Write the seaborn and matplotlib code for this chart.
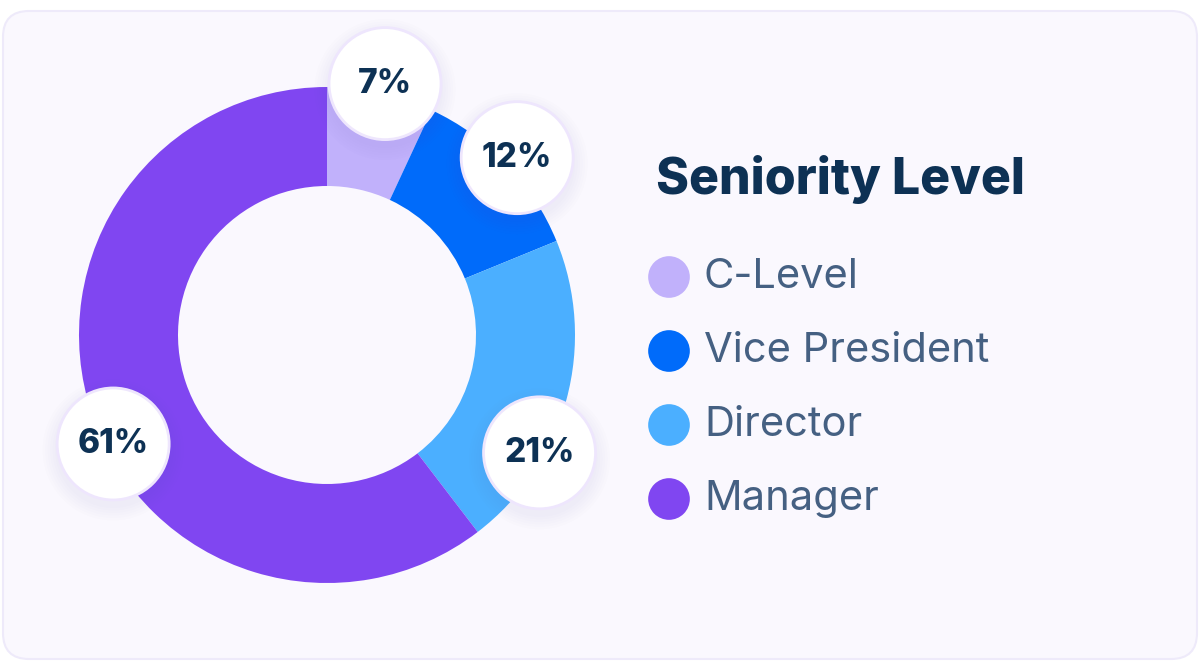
import matplotlib
matplotlib.use("Agg")
import matplotlib.pyplot as plt
from matplotlib.patches import FancyBboxPatch, Circle
import numpy as np
import seaborn as sns

# data
levels = ["C-Level", "Vice President", "Director", "Manager"]
shares = [7, 12, 21, 61]
colors = ["#C1B1FB", "#006BFA", "#4BAFFF", "#8046F1"]
title = "Seniority Level"

# layout (pixels, origin bottom-left)
W, H = 1200, 662
cx, cy = 327, H - 335
r_out, r_in = 248, 149
bubble_angles = [77, 43, -29, -153]
bubble_radii = [258, 260, 243, 240]
bubble_r = 56

sns.set_theme(style="white")
plt.rcParams["font.family"] = ["Inter", "DejaVu Sans"]

fig = plt.figure(figsize=(W / 100, H / 100), dpi=100)
fig.patch.set_facecolor("white")
ax = fig.add_axes([0, 0, 1, 1])

# card background
card = FancyBboxPatch((3, 3), W - 6, H - 14, boxstyle="round,pad=0,rounding_size=26",
                      facecolor="#FAF8FE", edgecolor="#EEEAFA", linewidth=1.5, zorder=0)
ax.add_patch(card)

# donut
ax.pie(shares, colors=colors, startangle=90, counterclock=False,
       center=(cx, cy), radius=r_out,
       wedgeprops=dict(width=r_out - r_in, linewidth=0, zorder=1))

# value bubbles
for val, ang, rad in zip(shares, bubble_angles, bubble_radii):
    bx = cx + rad * np.cos(np.radians(ang))
    by = cy + rad * np.sin(np.radians(ang))
    for k in range(6):
        ax.add_patch(Circle((bx, by - 6), bubble_r + 2 + k * 2.5,
                            facecolor="#6A5AA8", alpha=0.012, linewidth=0, zorder=2))
    ax.add_patch(Circle((bx, by), bubble_r, facecolor="white",
                        edgecolor="#EEE6FD", linewidth=2, zorder=3))
    ax.text(bx, by, f"{val}%", ha="center", va="center", fontsize=24,
            fontweight="heavy", color="#0D3154", zorder=4)

# legend
ax.text(656, H - 180, title, ha="left", va="center", fontsize=36,
        fontweight="heavy", color="#0D3154")
leg_y = [H - (277 + 74 * i) for i in range(len(levels))]
sns.scatterplot(x=[669] * len(levels), y=leg_y, hue=levels, palette=colors,
                s=900, linewidth=0, legend=False, ax=ax, zorder=3)
for lab, yy in zip(levels, leg_y):
    ax.text(704, yy, lab, ha="left", va="center", fontsize=30, color="#456082")

ax.set_xlim(0, W)
ax.set_ylim(0, H)
ax.set_aspect("auto")
ax.axis("off")

fig.savefig("out.png", dpi=100, facecolor="white")
